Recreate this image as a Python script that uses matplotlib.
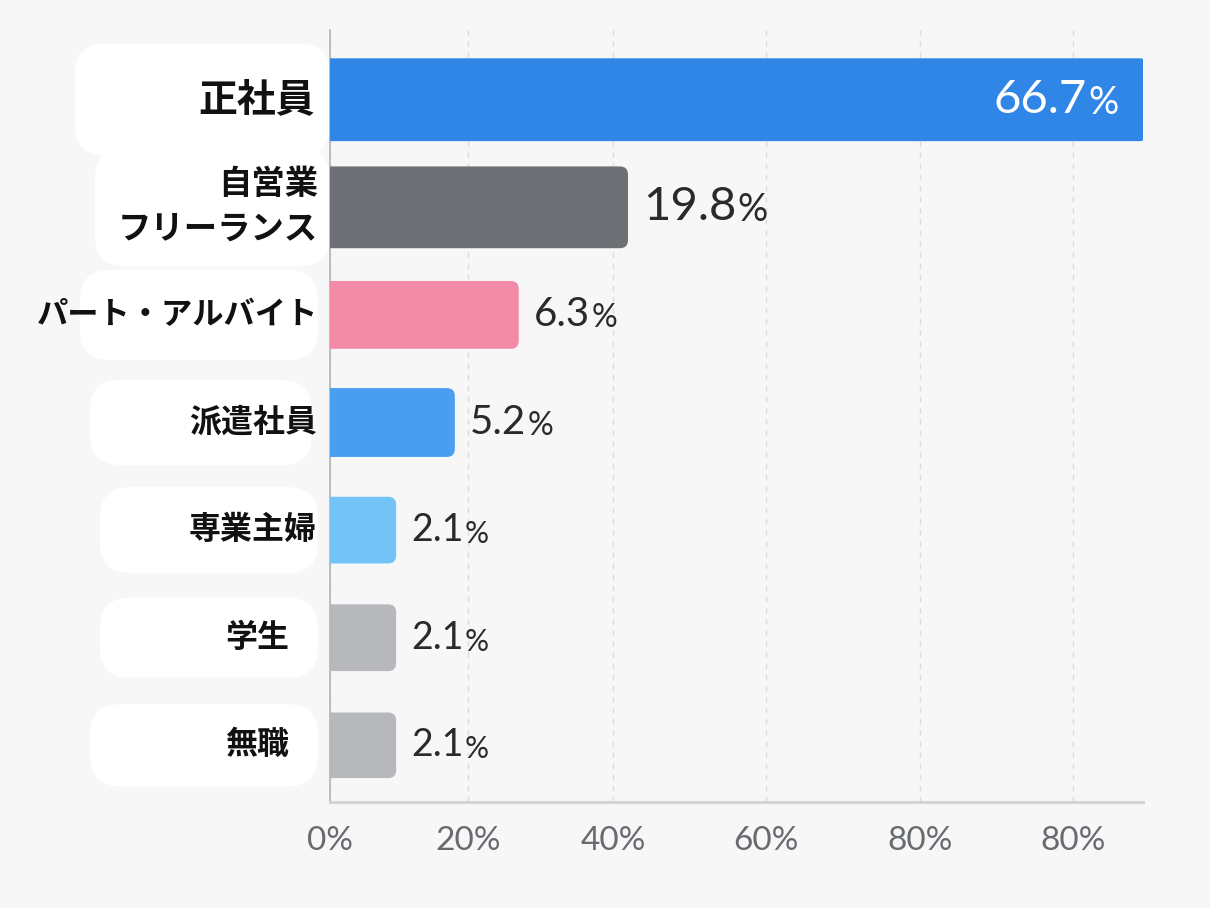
import matplotlib
matplotlib.use("Agg")
import matplotlib.pyplot as plt
from matplotlib.patches import FancyBboxPatch
from matplotlib.transforms import IdentityTransform, blended_transform_factory

plt.rcParams['font.family'] = ['Lato', 'Noto Sans CJK JP', 'DejaVu Sans']

# データ
categories = ['正社員', '自営業\nフリーランス', 'パート・アルバイト', '派遣社員', '専業主婦', '学生', '無職']
shares = [66.7, 19.8, 6.3, 5.2, 2.1, 2.1, 2.1]
# 画像上のバーの長さ (ラベルの値とは比例していない)
bar_lengths = [110, 40.1, 25.4, 16.8, 8.9, 8.9, 8.9]
tick_values = [0, 18.6, 38.1, 58.7, 79.4, 100]
tick_labels = ['0%', '20%', '40%', '60%', '80%', '80%']

colors = ['#2f86e6', '#6d7074', '#f28aa8', '#4a9ef0', '#74c3f6', '#b6b8bb', '#b6b8bb']
bar_heights = [0.77, 0.76, 0.63, 0.64, 0.62, 0.62, 0.61]
label_sizes = [28, 24, 22.5, 23, 23, 23, 23]
label_gap_px = [15, 12, 12, 13, 13, 41, 41]
value_sizes = [34, 34, 29, 29, 27, 27, 27]
bg = '#f7f7f8'

W, H = 1210, 908
fig = plt.figure(figsize=(W / 100, H / 100), dpi=100, facecolor=bg)
ax = fig.add_axes([330 / W, 1 - 802 / H, (1143 - 330) / W, (802 - 30) / H])
ax.set_facecolor(bg)

y = list(range(len(categories)))
ax.set_xlim(0, 109.4)
ax.set_ylim(6.527, -0.648)

# 角丸バー
ax_w_px = (1143 - 330)
ax_h_px = (802 - 30)
px_x = ax_w_px / 109.4
px_y = ax_h_px / (6.527 + 0.648)
aspect = px_x / px_y
radius = 8 / px_x

bars = ax.barh(y, bar_lengths, height=bar_heights, color=colors)
for rect, c in zip(bars, colors):
    x0, y0 = rect.get_x(), rect.get_y()
    w, h = rect.get_width(), rect.get_height()
    rect.remove()
    p = FancyBboxPatch((x0 - 3, y0), w + 3, h,
                       boxstyle=f'round,pad=0,rounding_size={radius}',
                       mutation_aspect=aspect, fc=c, ec='none', zorder=3)
    ax.add_patch(p)

# 値ラベル
for i, (v, L) in enumerate(zip(shares, bar_lengths)):
    s = value_sizes[i]
    if i == 0:
        t = ax.text(101.8, i, f'{v:.1f}', ha='right', va='center',
                    fontsize=s, color='white', zorder=5)
        col = 'white'
    else:
        t = ax.text(L + 2.0, i, f'{v:.1f}', ha='left', va='center',
                    fontsize=s, color='#2a2a2a', zorder=5)
        col = '#2a2a2a'
    ax.annotate('%', xy=(1, 0), xycoords=t, xytext=(1, 0),
                textcoords='offset points', ha='left', va='bottom',
                fontsize=s * 0.8, color=col, zorder=5)

# 項目ラベルと白い背景
trans = blended_transform_factory(ax.transAxes, ax.transData)
blob_left = [75, 95, 80, 90, 100, 100, 90]
blob_right = [330, 330, 318, 312, 318, 318, 318]
blob_h = [112, 118, 90, 85, 86, 80, 82]
for i, cat in enumerate(categories):
    cy = ax.transData.transform((0, i))[1]
    bl, br, bh = blob_left[i], blob_right[i], blob_h[i]
    blob = FancyBboxPatch((bl, cy - bh / 2), br - bl, bh,
                          boxstyle='round,pad=0,rounding_size=30',
                          fc='white', ec='none', transform=IdentityTransform(),
                          zorder=-5)
    fig.patches.append(blob)
    ax.text(-label_gap_px[i] / ax_w_px, i, cat, transform=trans,
            ha='right', va='center', multialignment='right',
            fontsize=label_sizes[i], fontweight='bold', linespacing=1.45,
            family=['Noto Sans CJK JP', 'DejaVu Sans'], color='#111111')

# 軸
ax.set_xticks(tick_values)
ax.set_xticklabels(tick_labels)
ax.set_yticks([])
ax.tick_params(axis='x', length=0, pad=17, labelsize=24, labelcolor='#676b70')
ax.grid(axis='x', linestyle=(0, (4, 4)), color='#dcdcdc', linewidth=1)
ax.set_axisbelow(True)
for side in ['top', 'right']:
    ax.spines[side].set_visible(False)
ax.spines['left'].set_color('#b8b8b8')
ax.spines['left'].set_linewidth(1.3)
ax.spines['bottom'].set_color('#d4d4d4')
ax.spines['bottom'].set_linewidth(2.2)

fig.savefig('out.png', dpi=100, facecolor=bg)
